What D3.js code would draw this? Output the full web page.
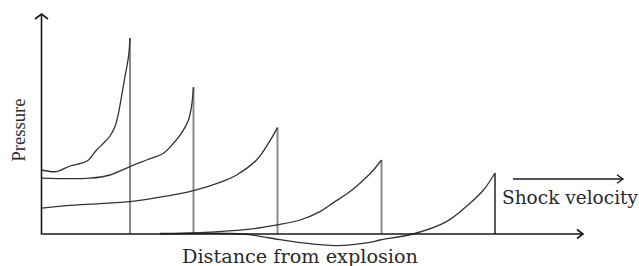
<!DOCTYPE html>
<html>
<head>
<meta charset="utf-8">
<script src="https://cdn.jsdelivr.net/npm/d3@7"></script>
<style>
  html, body { margin: 0; padding: 0; background: #fff; }
  svg { display: block; }
</style>
</head>
<body>
<div id="chart"></div>
<script>
// Pressure profiles of the blast wave at successive times (arbitrary units)
const wave1 = [[0, 32], [3.0, 31.2], [5.7, 34], [8.0, 35.4], [9.4, 37], [11.0, 42], [12.4, 45.4],
  [13.7, 49], [14.7, 53.7], [15.4, 60.4], [16.0, 68.7], [16.7, 78.7], [17.4, 88.7], [17.7, 98]];
const wave2 = [[0, 27.9], [9.7, 27.9], [13.7, 29.5], [17.7, 33.7], [21.0, 37], [24.4, 40.4],
  [26.4, 45.4], [28.0, 50.4], [29.4, 57], [30.0, 63.7], [30.4, 73.4]];
const wave3 = [[0, 12.9], [5.0, 14.2], [11.7, 15.2], [17.7, 16.2], [23.7, 18.4], [30.4, 21.7],
  [35.7, 25.8], [39.0, 29.5], [43.0, 37], [45.4, 45.4], [47.2, 53.2]];
const wave4 = [[23.7, 0.3], [31.7, 0.7], [41.7, 2.4], [47.0, 4.5], [51.7, 7], [55.7, 11.2],
  [58.4, 15.7], [61.7, 21.2], [64.4, 27], [66.4, 32], [68.0, 37]];
const wave5 = [[23.7, 0], [40.3, 0], [45.7, -2], [51.7, -4.3], [59.1, -5.8], [65.7, -4.2],
  [67.7, -3], [74.3, 0], [81.0, 6.2], [85.7, 15.4], [88.4, 22], [90.7, 30.5]];
const waves = [wave1, wave2, wave3, wave4, wave5];

const xLabel = 'Distance from explosion';
const yLabel = 'Pressure';
const arrowLabel = 'Shock velocity';

const width = 639, height = 266;
const margin = { left: 41.5, right: 56, top: 14, bottom: 32 };

const svg = d3.select('#chart')
  .append('svg')
  .attr('width', width)
  .attr('height', height);

const x = d3.scaleLinear()
  .domain([0, 108.3])
  .range([margin.left, width - margin.right]);

const y = d3.scaleLinear()
  .domain([0, 110])
  .range([height - margin.bottom, margin.top]);

const line = d3.line()
  .x(d => x(d[0]))
  .y(d => y(d[1]))
  .curve(d3.curveCatmullRom.alpha(0.5));

// Shock fronts (vertical drops at the peak of each wave)
svg.append('g')
  .selectAll('line')
  .data(waves)
  .join('line')
  .attr('x1', d => x(d[d.length - 1][0]))
  .attr('x2', d => x(d[d.length - 1][0]))
  .attr('y1', d => y(d[d.length - 1][1]))
  .attr('y2', y(0))
  .attr('stroke', (d, i) => i === waves.length - 1 ? '#222' : '#8a8a8a')
  .attr('stroke-width', (d, i) => i === waves.length - 1 ? 1.5 : 2);

// Pressure profiles
svg.append('g')
  .selectAll('path')
  .data(waves)
  .join('path')
  .attr('d', line)
  .attr('fill', 'none')
  .attr('stroke', '#333')
  .attr('stroke-width', 1.3);

// Axes with open arrowheads
const x0 = x(0), y0 = y(0);
const xEnd = x.range()[1], yEnd = y.range()[1];
const axes = svg.append('g')
  .attr('fill', 'none')
  .attr('stroke', '#1a1a1a')
  .attr('stroke-width', 1.6);

axes.append('path').attr('d', `M${x0},${yEnd}V${y0}H${xEnd}`);
axes.append('path').attr('d', `M${x0 - 6.5},${yEnd + 5}L${x0},${yEnd}L${x0 + 6.5},${yEnd + 5}`);
axes.append('path').attr('d', `M${xEnd - 6},${y0 - 4.5}L${xEnd},${y0}L${xEnd - 6},${y0 + 4.5}`);

// Shock velocity arrow
const ay = 179, ax1 = 513, ax2 = 623;
axes.append('path').attr('d', `M${ax1},${ay}H${ax2}`).attr('stroke-width', 1.4);
axes.append('path').attr('d', `M${ax2 - 6},${ay - 4.3}L${ax2},${ay}L${ax2 - 6},${ay + 4.3}`).attr('stroke-width', 1.4);

svg.append('text')
  .attr('x', 502)
  .attr('y', 203.5)
  .attr('font-family', '"DejaVu Serif", serif')
  .attr('font-size', 18)
  .attr('fill', '#2a2a2a')
  .attr('textLength', 136)
  .attr('lengthAdjust', 'spacingAndGlyphs')
  .text(arrowLabel);

// Axis labels
svg.append('text')
  .attr('x', 182)
  .attr('y', 263)
  .attr('font-family', '"DejaVu Serif", serif')
  .attr('font-size', 18.5)
  .attr('fill', '#2a2a2a')
  .attr('textLength', 236)
  .attr('lengthAdjust', 'spacingAndGlyphs')
  .text(xLabel);

svg.append('text')
  .attr('transform', 'translate(25,130) rotate(-90)')
  .attr('text-anchor', 'middle')
  .attr('font-family', '"Liberation Serif", serif')
  .attr('font-size', 18)
  .attr('fill', '#2a2a2a')
  .attr('textLength', 63)
  .attr('lengthAdjust', 'spacingAndGlyphs')
  .text(yLabel);
</script>
</body>
</html>
